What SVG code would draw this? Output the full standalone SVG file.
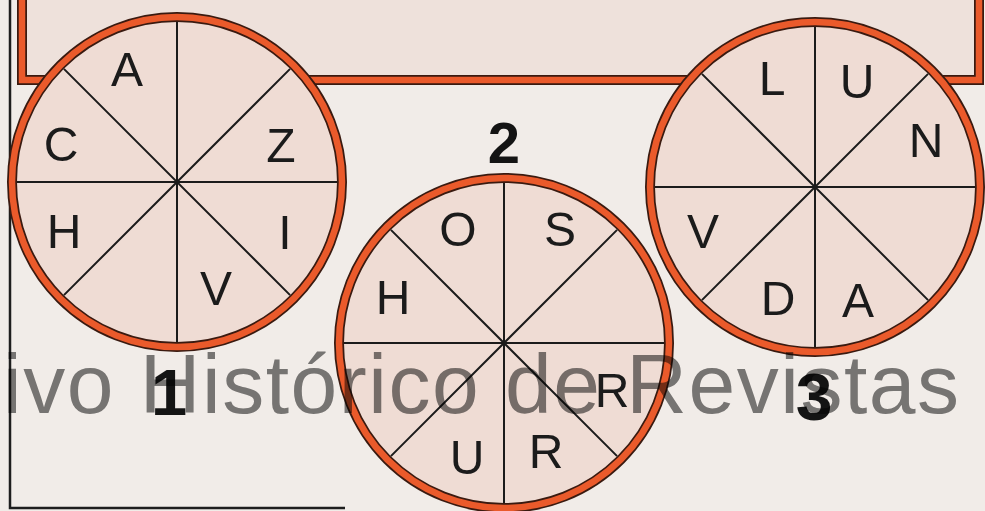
<svg xmlns="http://www.w3.org/2000/svg" xmlns:xlink="http://www.w3.org/1999/xlink" width="985" height="511" viewBox="0 0 985 511">
  <style>
    .ltr { font-family: "Liberation Sans", Arial, sans-serif; font-size: 48px; fill: #1b1b1b; text-anchor: middle; }
    .num { font-family: "Liberation Sans", Arial, sans-serif; font-weight: bold; fill: #141414; text-anchor: middle; }
    .frame { fill: none; stroke: #1e1e1e; stroke-width: 2.5; }
    .band-dark { fill: none; stroke: #3a1a10; stroke-width: 10; }
    .band { fill: none; stroke: #ea5a2b; stroke-width: 6.5; }
    .spoke { stroke: #1b1b1b; stroke-width: 2; fill: none; }
    .wm { font-family: "Liberation Sans", Arial, sans-serif; font-size: 84px; fill: #7d7d7d; mix-blend-mode: multiply; }
  </style>
  <defs>
    <g id="wheel">
      <circle r="165" fill="#efdcd4"/>
      <path class="spoke" d="M0,-160V160M-160,0H160M-113.1,-113.1L113.1,113.1M113.1,-113.1L-113.1,113.1"/>
      <circle r="165" class="band-dark"/>
      <circle r="165" class="band"/>
    </g>
  </defs>

  <rect x="0" y="0" width="985" height="511" fill="#f1ece8"/>

  <g id="frame">
    <path class="frame" d="M10,0V508H345"/>
  </g>

  <g id="top-box">
    <path d="M22,-10V80H979V-10Z" fill="#eee1db"/>
    <path class="band-dark" d="M22,-10V80H979V-10"/>
    <path class="band" d="M22,-10V80H979V-10"/>
  </g>

  <g id="wheel-1">
    <use xlink:href="#wheel" href="#wheel" transform="translate(177,182)"/>
    <text class="ltr" x="127" y="86">A</text>
    <text class="ltr" x="61" y="161">C</text>
    <text class="ltr" x="281" y="162">Z</text>
    <text class="ltr" x="64" y="248">H</text>
    <text class="ltr" x="285" y="249">I</text>
    <text class="ltr" x="216" y="305">V</text>
    <text class="num" x="169" y="415" font-size="65">1</text>
  </g>

  <g id="wheel-2">
    <use xlink:href="#wheel" href="#wheel" transform="translate(504,343)"/>
    <text class="ltr" x="458" y="246">O</text>
    <text class="ltr" x="560" y="246">S</text>
    <text class="ltr" x="393" y="314">H</text>
    <text class="ltr" x="612" y="407">R</text>
    <text class="ltr" x="467" y="474">U</text>
    <text class="ltr" x="546" y="468">R</text>
    <text class="num" x="504" y="163" font-size="58">2</text>
  </g>

  <g id="wheel-3">
    <use xlink:href="#wheel" href="#wheel" transform="translate(815,187)"/>
    <text class="ltr" x="772" y="95">L</text>
    <text class="ltr" x="857" y="98">U</text>
    <text class="ltr" x="926" y="157">N</text>
    <text class="ltr" x="703" y="248">V</text>
    <text class="ltr" x="778" y="315">D</text>
    <text class="ltr" x="858" y="317">A</text>
    <text class="num" x="814" y="420" font-size="66">3</text>
  </g>

  <g id="connectors"></g>

  <text class="wm" x="3" y="413" textLength="956" lengthAdjust="spacing">ivo Histórico de Revistas</text>
</svg>
